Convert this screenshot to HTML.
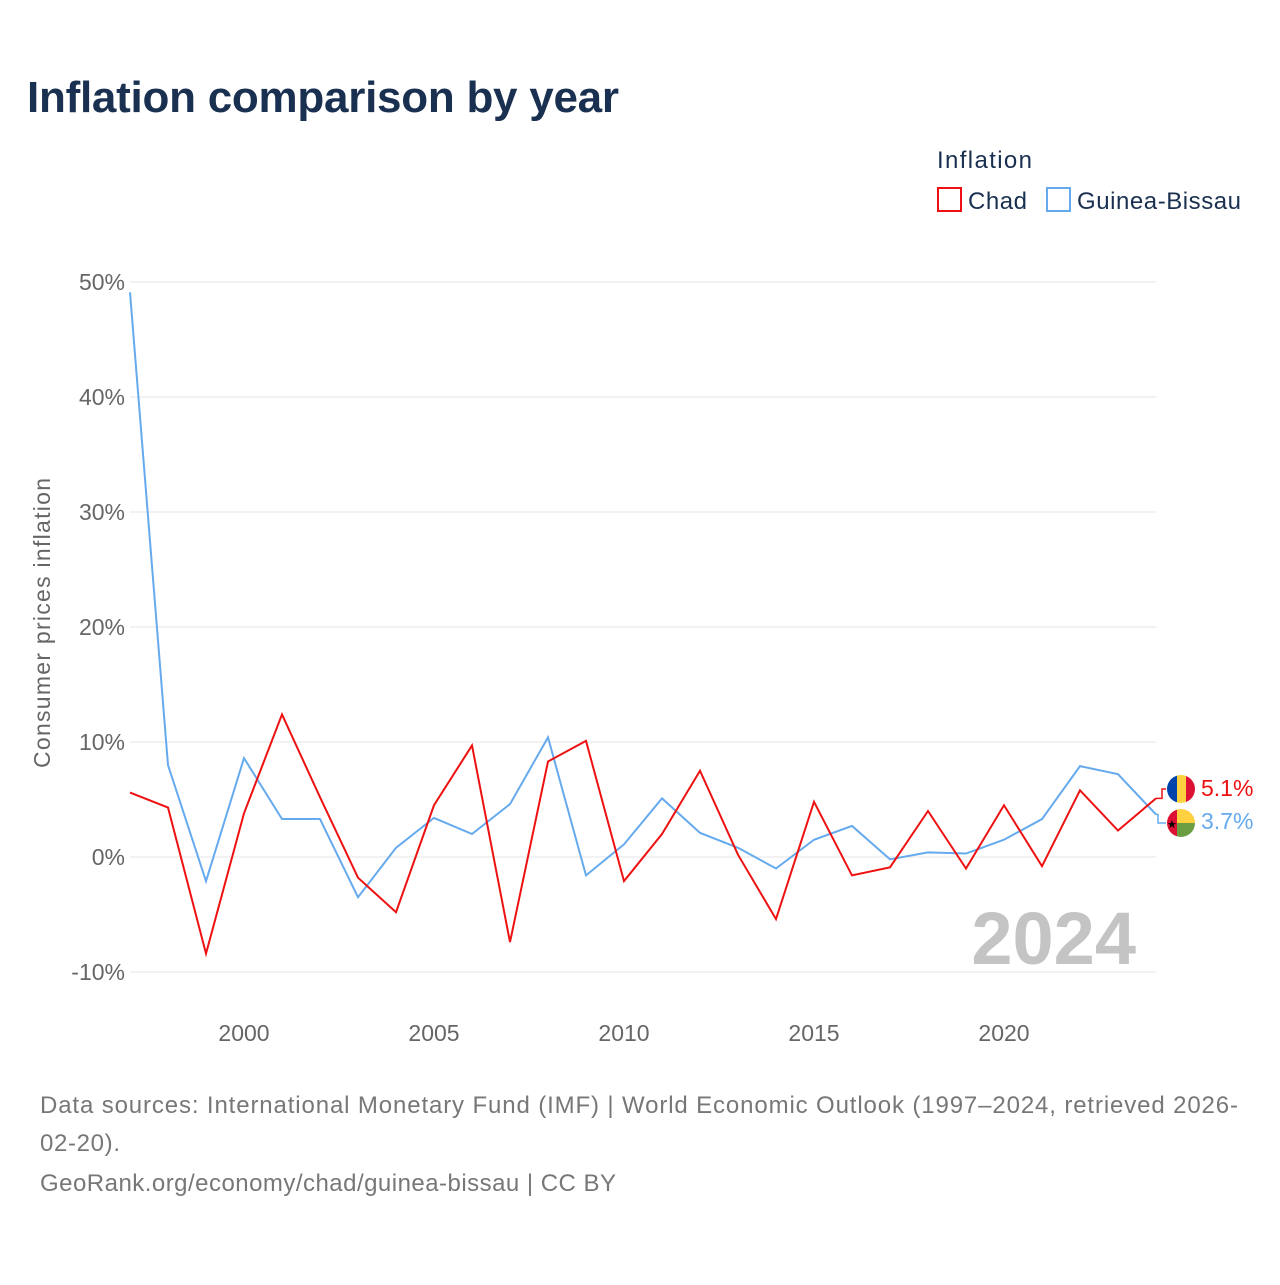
<!DOCTYPE html>
<html><head><meta charset="utf-8"><style>
body{margin:0;background:#fff;font-family:"Liberation Sans",sans-serif;}
svg text{font-family:"Liberation Sans",sans-serif;}
</style></head><body>
<svg width="1280" height="1280" xmlns="http://www.w3.org/2000/svg">
<text x="27" y="112" font-size="44" font-weight="bold" fill="#1a3050" textLength="592">Inflation comparison by year</text>
<text x="937" y="168" font-size="24" fill="#1a3050" textLength="95">Inflation</text>
<g><rect x="938" y="188" width="23" height="23" fill="none" stroke="#ee1111" stroke-width="2"/><text x="968" y="209" font-size="24" fill="#1a3050" textLength="59">Chad</text></g>
<g><rect x="1047" y="188" width="23" height="23" fill="none" stroke="#66aaee" stroke-width="2"/><text x="1077" y="209" font-size="24" fill="#1a3050" textLength="164">Guinea-Bissau</text></g>
<g id="grid"></g><g id="xt"></g><g id="lines"></g>
<text transform="translate(50,623) rotate(-90)" text-anchor="middle" font-size="23" fill="#666" textLength="290">Consumer prices inflation</text>
<text x="1136" y="964" text-anchor="end" font-size="74" font-weight="bold" fill="#c4c4c4">2024</text>
<g><clipPath id="c1"><circle cx="1181" cy="789" r="14"/></clipPath><g clip-path="url(#c1)"><rect x="1167" y="775" width="10" height="28" fill="#0044aa"/><rect x="1177" y="775" width="9" height="28" fill="#ffd040"/><rect x="1186" y="775" width="10" height="28" fill="#dd1133"/></g></g>
<g><clipPath id="c2"><circle cx="1181" cy="823" r="14"/></clipPath><g clip-path="url(#c2)"><rect x="1167" y="809" width="10" height="28" fill="#dd1133"/><rect x="1177" y="809" width="19" height="14" fill="#ffd040"/><rect x="1177" y="823" width="19" height="14" fill="#6a9e40"/><text x="1167" y="828" font-size="11">★</text></g></g>
<text x="1201" y="796" font-size="23" fill="#ee1111">5.1%</text>
<text x="1201" y="829" font-size="23" fill="#66aaee">3.7%</text>
<text x="40" y="1113" font-size="24" fill="#777" textLength="1198">Data sources: International Monetary Fund (IMF) | World Economic Outlook (1997–2024, retrieved 2026-</text>
<text x="40" y="1151" font-size="24" fill="#777" textLength="80">02-20).</text>
<text x="40" y="1191" font-size="24" fill="#777" textLength="576">GeoRank.org/economy/chad/guinea-bissau | CC BY</text>
</svg>
<script>
const years=[1997,1998,1999,2000,2001,2002,2003,2004,2005,2006,2007,2008,2009,2010,2011,2012,2013,2014,2015,2016,2017,2018,2019,2020,2021,2022,2023,2024];
const chad=[5.6,4.3,-8.4,3.8,12.4,5.2,-1.8,-4.8,4.5,9.7,-7.4,8.3,10.1,-2.1,2.0,7.5,0.2,-5.4,4.8,-1.6,-0.9,4.0,-1.0,4.5,-0.8,5.8,2.3,5.1];
const gb=[49.1,8.0,-2.1,8.6,3.3,3.3,-3.5,0.8,3.4,2.0,4.6,10.4,-1.6,1.1,5.1,2.1,0.8,-1.0,1.5,2.7,-0.2,0.4,0.3,1.5,3.3,7.9,7.2,3.7];
const yTicks=[-10,0,10,20,30,40,50];
const xTicks=[2000,2005,2010,2015,2020];
const NS="http://www.w3.org/2000/svg";
const X=y=>130+(y-1997)*38, Y=v=>857-v*11.5;
function mk(t,a,p){const e=document.createElementNS(NS,t);for(const k in a)e.setAttribute(k,a[k]);p.appendChild(e);return e;}
const grid=document.getElementById('grid');
yTicks.forEach(v=>{
 const l=mk('line',{x1:130,x2:1156,y1:Y(v),y2:Y(v),stroke:'#e6e6e6'},grid);
 
 
 const t=mk('text',{x:125,y:Y(v)+8,'text-anchor':'end','font-size':23,fill:'#666'},grid);
 t.textContent=v+'%';
 
 
});
const xt=document.getElementById('xt');
xTicks.forEach(v=>{
 const t=mk('text',{x:X(v),y:1041,'text-anchor':'middle','font-size':23,fill:'#666'},xt);
 t.textContent=v;
 
 
});
const lines=document.getElementById('lines');
[[gb,'#66aaee','line-guinea-bissau'],[chad,'#ee1111','line-chad']].forEach(([d,c,n])=>{
 const p=mk('polyline',{points:d.map((v,i)=>X(years[i])+','+Y(v)).join(' '),fill:'none',stroke:c,'stroke-width':2},lines);
 
 
});
const lc=mk('polyline',{points:`1156,${Y(chad[27])} 1162,${Y(chad[27])} 1162,789 1166,789`,fill:'none',stroke:'#ee1111','stroke-width':1.5},lines);


const lg=mk('polyline',{points:`1156,${Y(gb[27])} 1158,${Y(gb[27])} 1158,823 1166,823`,fill:'none',stroke:'#66aaee','stroke-width':1.5},lines);


</script>
</body></html>
